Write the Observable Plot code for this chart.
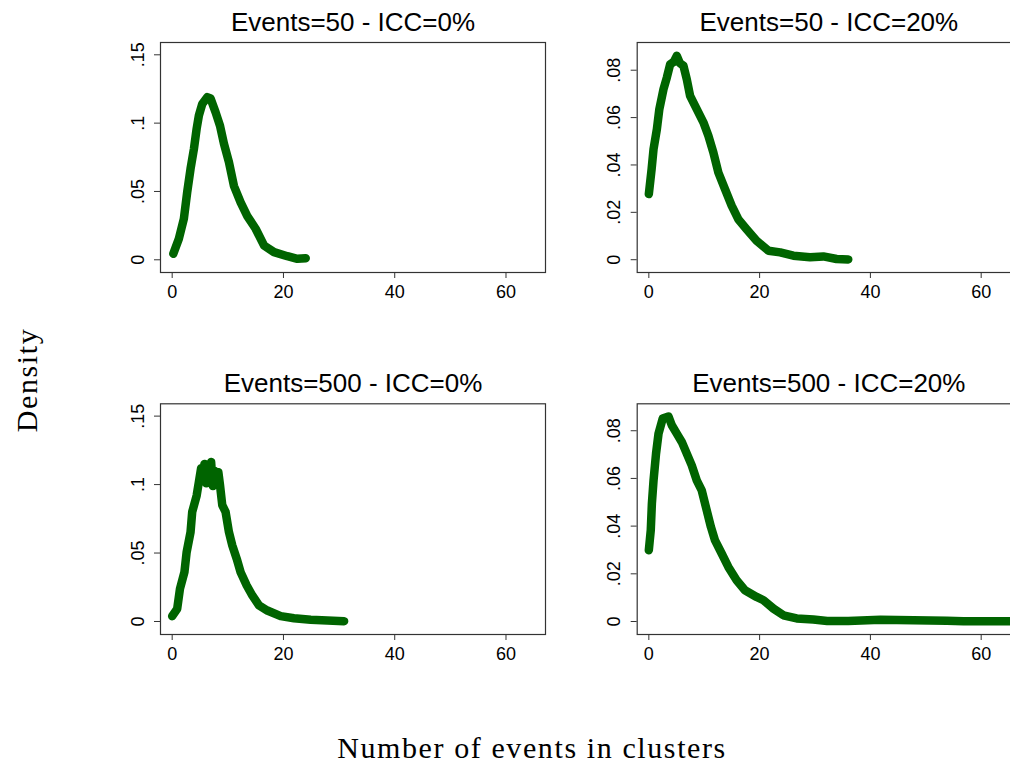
<!DOCTYPE html>
<html><head><meta charset="utf-8">
<script src="https://cdn.jsdelivr.net/npm/d3@7"></script>
<script src="https://cdn.jsdelivr.net/npm/@observablehq/plot@0.6"></script>
<style>
html,body{margin:0;padding:0;background:#fff;overflow:hidden;}
#wrap{position:relative;width:1010px;height:767px;overflow:hidden;background:#fff;}
.panel{position:absolute;}
.lab{position:absolute;font-family:"Liberation Serif","Times New Roman",serif;font-size:30px;line-height:30px;letter-spacing:1.6px;color:#000;white-space:nowrap;}
</style></head><body><div id="wrap"></div>
<script>
const titles = ["Events=50 - ICC=0%", "Events=50 - ICC=20%", "Events=500 - ICC=0%", "Events=500 - ICC=20%"];
const xLabel = "Number of events in clusters";
const yLabel = "Density";
const xTicks = [0, 20, 40, 60];
const yTicksA = [0, 0.05, 0.1, 0.15];
const yTicksB = [0, 0.02, 0.04, 0.06, 0.08];

const p1x = [0.2,1.2,2.1,2.7,3.3,3.9,4.4,4.8,5.4,6.3,6.9,7.8,8.6,9.3,10.2,11.1,12.3,13.5,15,16.5,18.3,20.7,22.5,24];
const p1y = [0.0044,0.0154,0.030,0.0495,0.0666,0.081,0.096,0.1056,0.114,0.119,0.118,0.108,0.098,0.085,0.0714,0.054,0.042,0.032,0.0227,0.0105,0.0056,0.0026,0.0007,0.0012];

const p2x = [0,0.5,0.85,1.45,1.9,2.65,3.25,3.85,4.5,5.05,5.6,6.25,6.85,7.45,8.65,9.85,10.75,11.65,12.55,13.75,14.95,16.15,17.65,19.45,21.6,23.7,26.1,29.1,31.5,33.9,36];
const p2y = [0.0277,0.0382,0.0467,0.0551,0.0636,0.072,0.0769,0.0825,0.0835,0.0861,0.0830,0.0819,0.0762,0.0692,0.0636,0.058,0.0523,0.0453,0.0368,0.0298,0.0228,0.0171,0.0129,0.008,0.0038,0.0031,0.0017,0.001,0.0014,0.0003,0.0001];

const p3x = [0,0.9,1.4,2.2,2.6,3.3,3.6,4.4,4.8,5.2,5.5,5.8,6.1,6.4,6.7,7.0,7.3,7.6,7.9,8.3,8.6,9.0,9.6,10.2,10.8,11.6,12.3,13.4,14.4,15.6,17.1,19.5,21.9,24.9,27.9,30.9];
const p3y = [0.0039,0.0093,0.0239,0.036,0.0507,0.0653,0.08,0.092,0.102,0.112,0.103,0.115,0.101,0.113,0.104,0.1165,0.099,0.110,0.101,0.109,0.0994,0.085,0.08,0.0653,0.0556,0.0458,0.036,0.0263,0.019,0.0117,0.008,0.0039,0.0024,0.0012,0.0007,0.0002];

const p4x = [0,0.35,0.55,0.85,1.3,1.75,2.5,3.55,4.15,5.05,5.95,6.85,7.75,8.65,9.55,10.3,11.2,11.95,13.15,14.35,15.85,17.35,19.45,20.7,22.5,24.3,26.7,29.7,32.2,36,41.8,47.8,53.8,56.8,62,67];
const p4y = [0.0299,0.0383,0.0494,0.0592,0.0704,0.0788,0.0851,0.086,0.0823,0.0788,0.0753,0.0704,0.0655,0.0592,0.055,0.048,0.0397,0.034,0.0285,0.0229,0.0173,0.0131,0.0103,0.0089,0.0054,0.0026,0.0013,0.0008,0.0002,0.0002,0.0007,0.0005,0.0003,0.0001,0.0001,0.0001];

const fmt = d => d === 0 ? "0" : d3.format(".2~f")(d).replace(/^0/, "");
const wrap = document.getElementById("wrap");

function panel({title, xs, ys, yDomain, yTicks, left, top, ml, mr, mt, mb}) {
  const data = xs.map((x, i) => ({x, y: ys[i]}));
  const chart = Plot.plot({
    width: 460, height: 320,
    marginLeft: ml, marginRight: mr, marginTop: mt, marginBottom: mb,
    x: {domain: [-2.1, 67.1], label: null},
    y: {domain: yDomain, label: null},
    style: {fontFamily: "'Liberation Sans', Arial, sans-serif", fontSize: "18px", color: "#000", background: "transparent", overflow: "visible"},
    marks: [
      Plot.frame({stroke: "#333", strokeWidth: 1.2}),
      Plot.axisX({ticks: xTicks, tickSize: 6, tickPadding: 7, fontSize: 18, stroke: "#333", label: null}),
      Plot.axisY({ticks: yTicks, tickRotate: -90, tickSize: 6, tickPadding: 11, tickFormat: fmt, fontSize: 18, stroke: "#333", label: null}),
      Plot.line(data, {x: "x", y: "y", stroke: "#006400", strokeWidth: 8.5, strokeLinejoin: "round", strokeLinecap: "round"}),
      Plot.text([title], {frameAnchor: "top", text: d => d, dy: -12, lineAnchor: "bottom", fontSize: 26, fill: "#000"})
    ]
  });
  chart.classList.add("panel");
  chart.style.left = left + "px";
  chart.style.top = top + "px";
  wrap.appendChild(chart);
}

panel({title: titles[0], xs: p1x, ys: p1y, yDomain: [-0.0093, 0.159], yTicks: yTicksA, left: 100, top: 0, ml: 60, mr: 15, mt: 42, mb: 48});
panel({title: titles[1], xs: p2x, ys: p2y, yDomain: [-0.0054, 0.0917], yTicks: yTicksB, left: 580, top: 0, ml: 56.7, mr: 20, mt: 42, mb: 48});
panel({title: titles[2], xs: p3x, ys: p3y, yDomain: [-0.0095, 0.159], yTicks: yTicksA, left: 100, top: 360, ml: 60, mr: 15, mt: 43.3, mb: 46});
panel({title: titles[3], xs: p4x, ys: p4y, yDomain: [-0.00545, 0.0913], yTicks: yTicksB, left: 580, top: 360, ml: 56.7, mr: 20, mt: 43.3, mb: 46});

const yl = document.createElement("div");
yl.className = "lab";
yl.textContent = yLabel;
yl.style.left = "27px"; yl.style.top = "380px";
yl.style.transform = "translate(-50%,-50%) rotate(-90deg)";
wrap.appendChild(yl);

const xl = document.createElement("div");
xl.className = "lab";
xl.textContent = xLabel;
xl.style.left = "532px"; xl.style.top = "733px";
xl.style.transform = "translateX(-50%)";
wrap.appendChild(xl);
</script></body></html>
